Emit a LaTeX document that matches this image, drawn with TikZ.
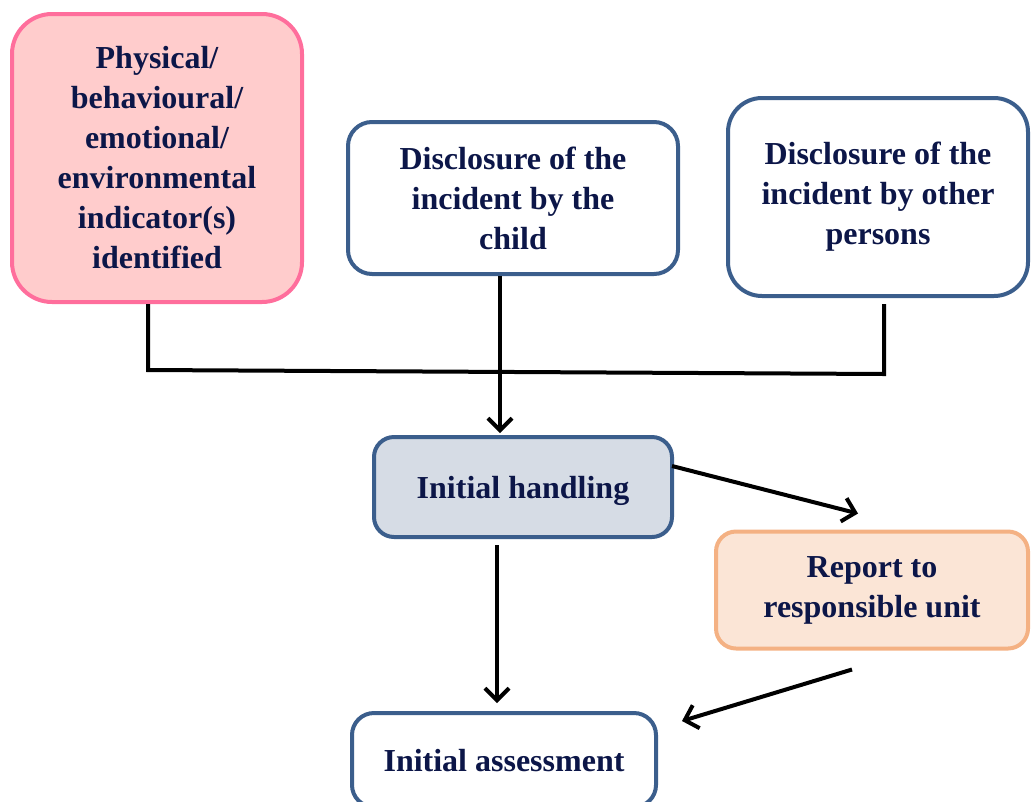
\documentclass[tikz,border=0pt]{standalone}
\usepackage{fontspec}
\setmainfont{Liberation Serif}
\usetikzlibrary{arrows.meta,calc}
\definecolor{txt}{RGB}{12,22,72}
\definecolor{navy}{RGB}{59,94,140}
\definecolor{pinkfill}{RGB}{255,204,204}
\definecolor{pinkline}{RGB}{255,110,156}
\definecolor{greyfill}{RGB}{214,220,229}
\definecolor{peachfill}{RGB}{251,229,214}
\definecolor{peachline}{RGB}{244,177,131}
\tikzset{
  box/.style={draw=navy, line width=4pt, rounded corners=24pt, fill=white,
    align=center, text=txt, font=\fontsize{32}{40}\selectfont\bfseries,
    inner sep=0pt},
  oneline/.style={text depth=0pt},
  conn/.style={line width=4pt, draw=black},
  arr/.style={conn, -{Straight Barb[length=12pt,width=24pt,line width=4pt]}}
}
\begin{document}
\begin{tikzpicture}[x=1pt,y=-1pt]
\useasboundingbox (0,0) rectangle (1032,801);
% source boxes
\node[box, draw=pinkline, fill=pinkfill, rounded corners=40pt,
  minimum width=290pt, minimum height=288pt] (ind) at (157,158)
  {Physical/\\behavioural/\\emotional/\\environmental\\indicator(s)\\identified};
\node[box, minimum width=330pt, minimum height=152pt] (chd) at (513,198)
  {Disclosure of the\\incident by the\\child};
\node[box, rounded corners=34pt, minimum width=300pt, minimum height=198pt] (oth) at (878,197)
  {Disclosure of the\\incident by other\\persons};
% process boxes
\node[box, oneline, fill=greyfill, rounded corners=20pt, minimum width=298pt, minimum height=100pt] (ih) at (523,487)
  {Initial handling};
\node[box, draw=peachline, fill=peachfill, rounded corners=20pt,
  minimum width=312pt, minimum height=117pt] (rp) at (872,590)
  {Report to\\responsible unit};
\node[box, oneline, rounded corners=22pt, minimum width=304pt, minimum height=94pt] (ia) at (504,760)
  {Initial assessment};
% joining bar
\coordinate (jl) at (148,370);
\coordinate (jr) at (884,374);
\draw[conn] ($(ind.south)+(-9,0)$) -- (jl) -- (jr) -- ($(oth.south)+(6,6)$);
% arrows
\draw[arr] ($(chd.south)+(-13,0)$) -- ($(ih.north)+(-23,-2)$);
\draw[arr] ($(ih.east)+(-2,-21)$) -- ($(rp.north)+(-14,-16)$);
\draw[arr] ($(ih.south)+(-26,6)$) -- ($(ia.north)+(-7,-8)$);
\draw[arr] ($(rp.south)+(-20,19)$) -- ($(ia.north east)+(24,10)$);
\end{tikzpicture}
\end{document}
